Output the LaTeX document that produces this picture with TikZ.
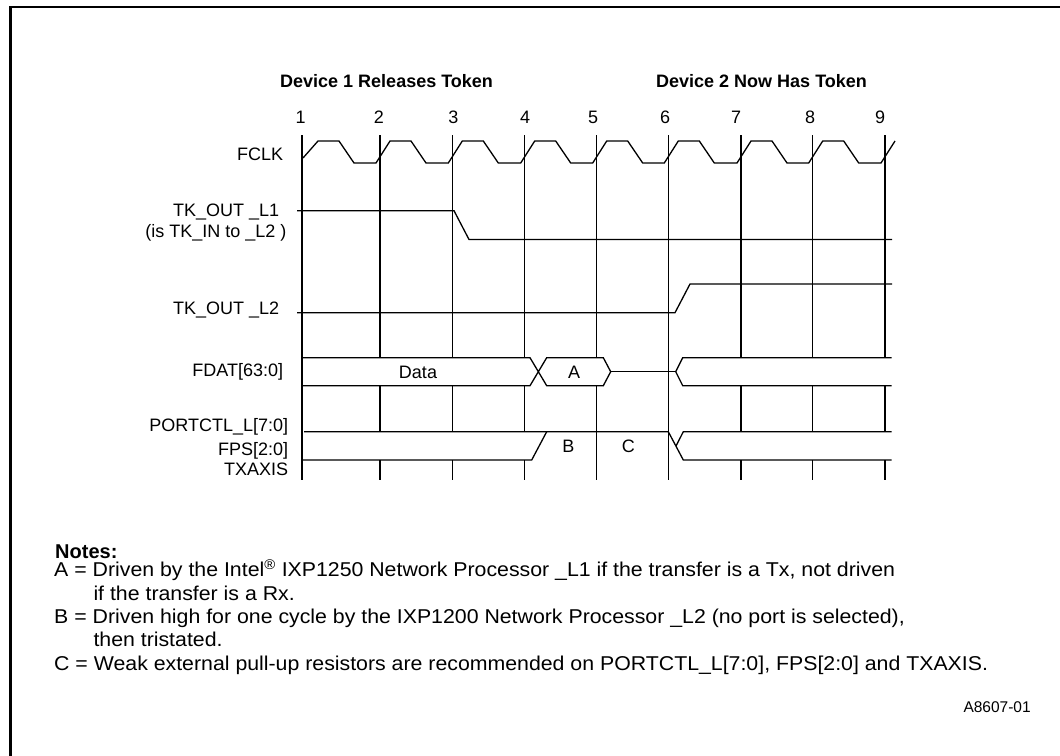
\documentclass[tikz,border=0pt]{standalone}
\usepackage{fontspec}
\setmainfont{Liberation Sans}
\newfontfamily\notesfont[FakeStretch=1.065]{Liberation Sans}
\begin{document}
\begin{tikzpicture}[x=1pt,y=-1pt,
  txt/.style={inner sep=0pt, font=\fontsize{18}{21.6}\selectfont},
  bold/.style={txt, font=\fontsize{18}{21.6}\selectfont\bfseries},
  notetxt/.style={inner sep=0pt, font=\notesfont\fontsize{20}{24}\selectfont},
  notehead/.style={inner sep=0pt, font=\fontsize{20}{24}\selectfont\bfseries},
  sig/.style={line width=1.3pt, line join=miter, line cap=butt},
  gridline/.style={line width=1.3pt},
  frame/.style={line width=2.2pt}]
\useasboundingbox (0,0) rectangle (1060,755);
% frame
\draw[frame] (10.5,756) -- (10.5,6.7) -- (1061,6.7);

% headings
\node[bold, anchor=base west] (h1) at (280,87) {Device 1 Releases Token};
\node[bold, anchor=base west] (h2) at (656,87) {Device 2 Now Has Token};

% cycle numbers
\foreach \n/\x in {1/300.7,2/379,3/453.3,4/525,5/593,6/665,7/736,8/810,9/880}
  \node[txt, anchor=base] (n\n) at (\x,123) {\n};

% signal labels
\node[txt, anchor=base east] (lfclk) at (283.3,160.8) {FCLK};
\node[txt, anchor=base east] (ltk1) at (279.3,216.7) {TK\_OUT \_L1};
\node[txt, anchor=base east] (ltk1b) at (286.7,237) {(is TK\_IN to \_L2 )};
\node[txt, anchor=base east] (ltk2) at (279.3,314) {TK\_OUT \_L2};
\node[txt, anchor=base east] (lfdat) at (283.3,376.5) {FDAT[63:0]};
\node[txt, anchor=base east] (lport) at (288.3,431.5) {PORTCTL\_L[7:0]};
\node[txt, anchor=base east] (lfps) at (288.3,455.5) {FPS[2:0]};
\node[txt, anchor=base east] (ltx) at (288.3,475.5) {TXAXIS};

% vertical grid lines
\draw[gridline] (302,135) -- (302,480);
\foreach \x in {380,452.3,524.7,741,812.7,885}{
  \draw[gridline] (\x,135) -- (\x,357.7);
  \draw[gridline] (\x,385.7) -- (\x,431.7);
  \draw[gridline] (\x,460) -- (\x,480);
}
\draw[gridline] (596.7,135) -- (596.7,357.7);
\draw[gridline] (596.7,385.7) -- (596.7,480);
\draw[gridline] (668.3,135) -- (668.3,480);

% FCLK
\draw[sig] (303,158) -- (318,141) -- (339,141) -- (354,163) -- (376,163)
  -- (390,141) -- (411,141) -- (426,163) -- (448.3,163)
  -- (462.3,141) -- (483.3,141) -- (498.3,163) -- (520.7,163)
  -- (534.7,141) -- (555.7,141) -- (570.7,163) -- (592.7,163)
  -- (606.7,141) -- (627.7,141) -- (642.7,163) -- (664.3,163)
  -- (678.3,141) -- (699.3,141) -- (714.3,163) -- (737,163)
  -- (751,141) -- (772,141) -- (787,163) -- (808.7,163)
  -- (822.7,141) -- (843.7,141) -- (858.7,163) -- (881,163)
  -- (895,141);

% TK_OUT_L1
\draw[sig] (297,210.7) -- (454,210.7) -- (469,239.5) -- (892,239.5);
% TK_OUT_L2
\draw[sig] (297,312.7) -- (675,312.7) -- (690,284) -- (892,284);

% FDAT
\draw[sig] (302,357.7) -- (530,357.7) -- (546.7,385.7) -- (603.3,385.7)
  -- (610.7,371.7) -- (603.3,357.7) -- (546.7,357.7) -- (530,385.7) -- (302,385.7);
\draw[sig] (610.7,371.7) -- (675.7,371.7);
\draw[sig] (891.7,357.7) -- (682.7,357.7) -- (675.7,371.7) -- (682.7,385.7) -- (891.7,385.7);
\node[txt, anchor=base] (tdata) at (418,378) {Data};
\node[txt, anchor=base] (ta) at (574,378) {A};

% PORTCTL / FPS / TXAXIS
\draw[sig] (304,431.7) -- (668.3,431.7) -- (683.3,460) -- (891.7,460);
\draw[sig] (302,460) -- (531.7,460) -- (546.7,431.7);
\draw[sig] (676,446) -- (683.3,431.7) -- (891.7,431.7);
\node[txt, anchor=base] (tb) at (568.3,452.8) {B};
\node[txt, anchor=base] (tc) at (628.3,452.8) {C};

% notes
\node[notehead, anchor=base west] (notes) at (55,558) {Notes:};
\node[notetxt, anchor=base west] (na) at (54,576.7) {A = Driven by the Intel\textsuperscript{®} IXP1250 Network Processor \_L1 if the transfer is a Tx, not driven};
\node[notetxt, anchor=base west] (na2) at (93.3,600) {if the transfer is a Rx.};
\node[notetxt, anchor=base west] (nb) at (54,623.3) {B = Driven high for one cycle by the IXP1200 Network Processor \_L2 (no port is selected),};
\node[notetxt, anchor=base west] (nb2) at (93.3,646.7) {then tristated.};
\node[notetxt, anchor=base west] (nc) at (54,670) {C = Weak external pull-up resistors are recommended on PORTCTL\_L[7:0], FPS[2:0] and TXAXIS.};

\node[inner sep=0pt, anchor=base west, font=\fontsize{15.5}{18}\selectfont] (id) at (963.3,712) {A8607-01};
\end{tikzpicture}
\end{document}
